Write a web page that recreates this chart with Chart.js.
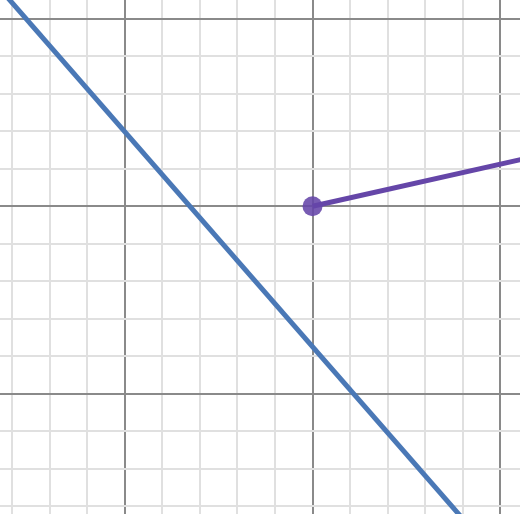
<!DOCTYPE html>
<html>
<head>
<meta charset="utf-8">
<script src="https://cdn.jsdelivr.net/npm/chart.js@4"></script>
<style>
    html, body { margin: 0; padding: 0; background: #fff; }
    #wrap { width: 520px; height: 514px; position: relative; }
</style>
</head>
<body>
<div id="wrap"><canvas id="graph"></canvas></div>
<script>
// view window (graph units)
const xRange = [-8.333, 5.533];
const yRange = [-8.207, 5.5];

// grid ticks, every unit; every 5th is a major line
const xTicks = [-8, -7, -6, -5, -4, -3, -2, -1, 0, 1, 2, 3, 4, 5];
const yTicks = [-8, -7, -6, -5, -4, -3, -2, -1, 0, 1, 2, 3, 4, 5];

// blue line
const blueX = [-9, 6];
const blueY = [6.56, -10.615];

// purple ray starting at a dot
const purpleX = [0, 7];
const purpleY = [0, 1.568];

const toPoints = (xs, ys) => xs.map((x, i) => ({ x: x, y: ys[i] }));

const gridColor = ctx => (ctx.tick && ctx.tick.value % 5 === 0) ? '#8a8a8a' : '#e0e0e0';

const ctx = document.getElementById('graph').getContext('2d');
new Chart(ctx, {
    type: 'scatter',
    data: {
        datasets: [{
            data: toPoints(purpleX, purpleY),
            showLine: true,
            borderColor: '#6546a8',
            backgroundColor: 'rgba(101, 70, 168, 0.88)',
            borderWidth: 5,
            pointBorderWidth: 0,
            pointRadius: [10, 0],
            pointHoverRadius: [10, 0],
            order: 1
        }, {
            data: toPoints(blueX, blueY),
            showLine: true,
            borderColor: '#4a78b6',
            backgroundColor: '#4a78b6',
            borderWidth: 5,
            pointRadius: 0,
            pointHoverRadius: 0,
            order: 2
        }]
    },
    options: {
        responsive: true,
        maintainAspectRatio: false,
        animation: false,
        layout: { padding: 0, autoPadding: false },
        plugins: {
            legend: { display: false },
            tooltip: { enabled: false }
        },
        scales: {
            x: {
                type: 'linear',
                min: xRange[0],
                max: xRange[1],
                afterBuildTicks: axis => { axis.ticks = xTicks.map(v => ({ value: v })); },
                ticks: { display: false },
                border: { display: false },
                grid: { color: gridColor, lineWidth: 2, drawTicks: false }
            },
            y: {
                type: 'linear',
                min: yRange[0],
                max: yRange[1],
                afterBuildTicks: axis => { axis.ticks = yTicks.map(v => ({ value: v })); },
                ticks: { display: false },
                border: { display: false },
                grid: { color: gridColor, lineWidth: 2, drawTicks: false }
            }
        }
    }
});
</script>
</body>
</html>
